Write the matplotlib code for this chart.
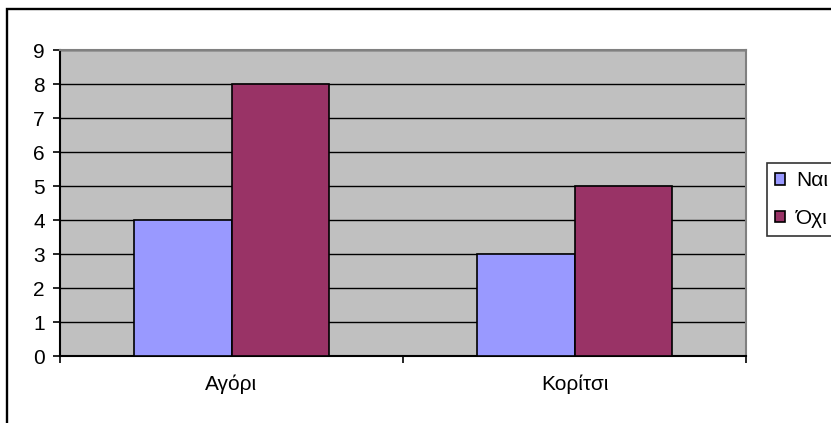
import matplotlib
matplotlib.use("Agg")
import matplotlib.pyplot as plt
from matplotlib.patches import Rectangle
import numpy as np

categories = ["Αγόρι", "Κορίτσι"]
series_names = ["Ναι", "Όχι"]
nai = [4, 3]
oxi = [8, 5]
yticks = list(range(0, 10))

plt.rcParams['font.family'] = ['Liberation Sans', 'DejaVu Sans']

W, H = 831, 423
fig = plt.figure(figsize=(W / 100, H / 100), dpi=100)
fig.patch.set_facecolor('white')

FS = 15

# outer frame
fig.patches.append(Rectangle((7 / W, -0.1), 1.2, (H - 9) / H + 0.1,
                             transform=fig.transFigure, fill=False,
                             edgecolor='black', linewidth=1.7))

left, top, right, bottom = 60, 50, 746, 356
ax = fig.add_axes([left / W, (H - bottom) / H, (right - left) / W, (bottom - top) / H])
ax.set_facecolor('#C0C0C0')

x = np.arange(len(categories))
w = 0.283
b1 = ax.bar(x - w / 2, nai, w, color='#9999FF', edgecolor='black', linewidth=1.2,
            label=series_names[0], zorder=3)
b2 = ax.bar(x + w / 2, oxi, w, color='#993366', edgecolor='black', linewidth=1.2,
            label=series_names[1], zorder=3)

ax.set_xlim(-0.5, len(categories) - 0.5)
ax.set_ylim(0, 9)
ax.set_yticks(yticks)
ax.yaxis.grid(True, color='black', linewidth=1.0, zorder=1)
ax.set_axisbelow(True)

ax.set_xticks(np.arange(-0.5, len(categories), 1.0))
ax.set_xticklabels([])
ax.set_xticks(x, minor=True)
ax.set_xticklabels(categories, minor=True)
ax.tick_params(axis='x', which='minor', length=0, pad=13, labelsize=FS)
ax.tick_params(axis='x', which='major', length=5, width=1.2, direction='out', color='black')
ax.tick_params(axis='y', length=5, width=1.2, direction='out', labelsize=FS, pad=6)

for s in ['left', 'bottom']:
    ax.spines[s].set_color('black')
    ax.spines[s].set_linewidth(1.5)
for s in ['top', 'right']:
    ax.spines[s].set_color('#808080')
    ax.spines[s].set_linewidth(1.5)

leg = fig.legend(handles=[b1, b2], labels=series_names, loc='upper left',
                 bbox_to_anchor=(767 / W, 1 - 163 / H), bbox_transform=fig.transFigure,
                 frameon=True, fancybox=False, edgecolor='black', fontsize=FS,
                 handlelength=0.45, handleheight=0.45, handletextpad=0.55,
                 borderpad=0.4, labelspacing=0.9, borderaxespad=0)
leg.get_frame().set_linewidth(1.2)

fig.savefig("out.png", dpi=100)
